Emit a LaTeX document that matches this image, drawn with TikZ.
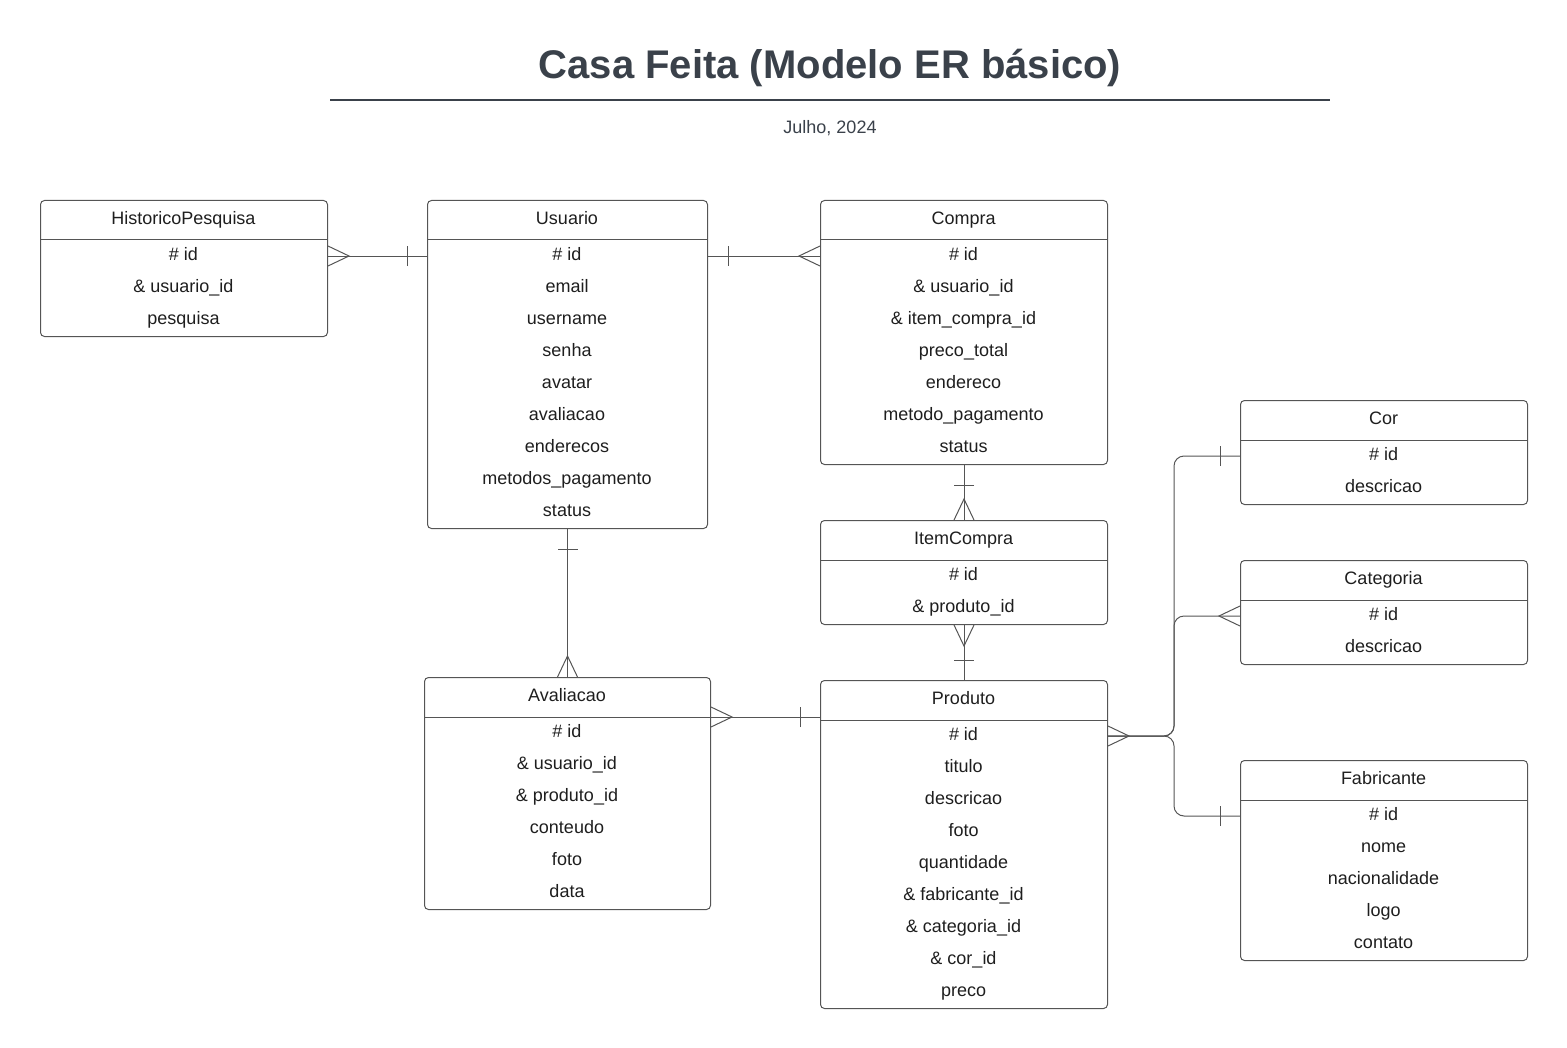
\documentclass[tikz,border=0pt]{standalone}
\usepackage{fontspec}
\setmainfont{Liberation Sans}
\usetikzlibrary{calc}
\definecolor{titleslate}{RGB}{58,65,74}
\definecolor{erline}{RGB}{85,85,85}
\definecolor{ertext}{RGB}{30,30,30}

% entity: name, x, y (top left), width, title, attributes
\newcommand{\erentity}[6]{%
  \foreach \r [count=\k] in {#6} {
    \node[erattr] (#1-\k) at (#2+#4/2, #3+24+32*\k) {\r};
    \xdef\nrows{\k}
  }
  \node[erbox, minimum width=#4*0.5pt, minimum height={(40+32*\nrows)*0.5pt}] (#1) at (#2,#3) {};
  \node[erattr] (#1-t) at (#2+#4/2, #3+20) {#5};
  \coordinate (#1-hl) at (#2,#3+40);
  \draw[erline, line width=0.5pt] (#1-hl) -- (#1-hl -| #1.east);
}

\begin{document}
\begin{tikzpicture}[
  x=0.5pt, y=-0.5pt,
  font=\fontsize{9}{11}\selectfont,
  erbox/.style={draw=erline, line width=0.5pt, rounded corners=2pt, anchor=north west, inner sep=0pt},
  erattr/.style={text=ertext, inner sep=0pt, text height=6.5pt, text depth=1.9pt},
  rel/.style={draw=erline, line width=0.5pt},
  crow/.pic={\draw[rel] (0,-10) -- (21,0) -- (0,10);},
  onebar/.pic={\draw[rel] (20,-10) -- (20,10);}
]
\useasboundingbox (0,0) rectangle (1567,1048);

% title
\node[anchor=base, text=titleslate, font=\fontsize{20}{24}\selectfont\bfseries] (title) at (830,79) {Casa Feita (Modelo ER básico)};
\coordinate (ruleL) at (330,100);
\coordinate (ruleR) at (1330,100);
\draw[titleslate, line width=1pt] (ruleL) -- (ruleR);
\node[anchor=base, text=titleslate] (date) at (830,133.5) {Julho, 2024};

% entities
\erentity{hist}{40}{200}{287}{HistoricoPesquisa}{\# id, \& usuario\_id, pesquisa}
\erentity{usr}{427}{200}{280}{Usuario}{\# id, email, username, senha, avatar, avaliacao, enderecos, metodos\_pagamento, status}
\erentity{compra}{820}{200}{287}{Compra}{\# id, \& usuario\_id, \& item\_compra\_id, preco\_total, endereco, metodo\_pagamento, status}
\erentity{item}{820}{520}{287}{ItemCompra}{\# id, \& produto\_id}
\erentity{aval}{424}{677}{286}{Avaliacao}{\# id, \& usuario\_id, \& produto\_id, conteudo, foto, data}
\erentity{prod}{820}{680}{287}{Produto}{\# id, titulo, descricao, foto, quantidade, \& fabricante\_id, \& categoria\_id, \& cor\_id, preco}
\erentity{cor}{1240}{400}{287}{Cor}{\# id, descricao}
\erentity{cat}{1240}{560}{287}{Categoria}{\# id, descricao}
\erentity{fab}{1240}{760}{287}{Fabricante}{\# id, nome, nacionalidade, logo, contato}

% relations
\draw[rel] (hist-1 -| hist.east) -- (usr-1 -| usr.west);
\pic at (hist-1 -| hist.east) {crow};
\pic[rotate=180] at (usr-1 -| usr.west) {onebar};

\draw[rel] (usr-1 -| usr.east) -- (compra-1 -| compra.west);
\pic at (usr-1 -| usr.east) {onebar};
\pic[rotate=180] at (compra-1 -| compra.west) {crow};

\draw[rel] (compra.south) -- (item.north);
\pic[rotate=-90] at (compra.south) {onebar};
\pic[rotate=90] at (item.north) {crow};

\draw[rel] (item.south) -- (prod.north);
\pic[rotate=-90] at (item.south) {crow};
\pic[rotate=90] at (prod.north) {onebar};

\draw[rel] (usr.south) -- (aval.north);
\pic[rotate=-90] at (usr.south) {onebar};
\pic[rotate=90] at (aval.north) {crow};

\draw[rel] (aval-hl -| aval.east) -- (aval-hl -| prod.west);
\pic at (aval-hl -| aval.east) {crow};
\pic[rotate=180] at (aval-hl -| prod.west) {onebar};

\coordinate (split) at ($(prod-1 -| prod.east)+(66,0)$);
\draw[rel, rounded corners=5pt] (prod-1 -| prod.east) -| (split |- cor-1) -- (cor-1 -| cor.west);
\draw[rel, rounded corners=5pt] (prod-1 -| prod.east) -| (split |- cat-1) -- (cat-1 -| cat.west);
\draw[rel, rounded corners=5pt] (prod-1 -| prod.east) -| (split |- fab-1) -- (fab-1 -| fab.west);
\pic at (prod-1 -| prod.east) {crow};
\pic[rotate=180] at (cor-1 -| cor.west) {onebar};
\pic[rotate=180] at (cat-1 -| cat.west) {crow};
\pic[rotate=180] at (fab-1 -| fab.west) {onebar};
\end{tikzpicture}
\end{document}
